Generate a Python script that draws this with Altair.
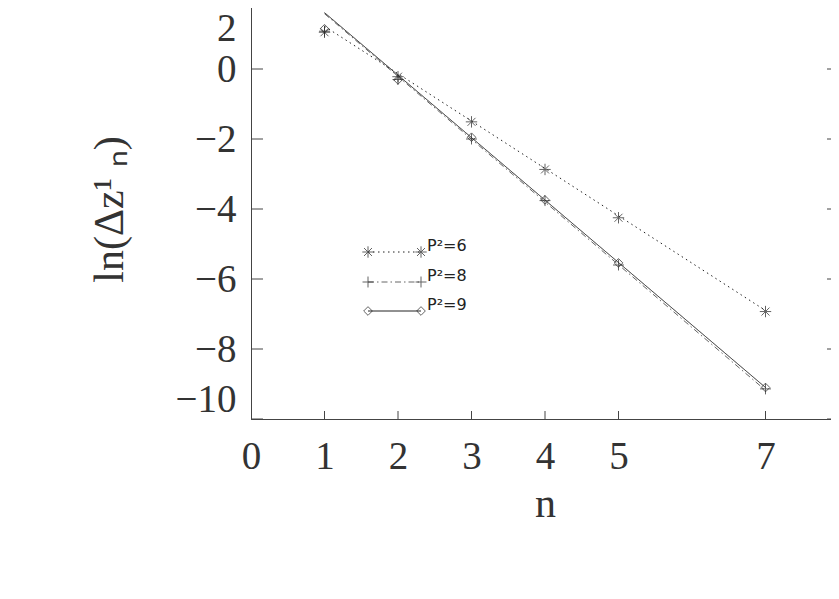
import altair as alt
import pandas as pd

# ---- data ----
n_vals = [1, 2, 3, 4, 5, 7]
p6 = [1.05, -0.22, -1.51, -2.87, -4.25, -6.93]
p8 = [1.08, -0.30, -2.00, -3.76, -5.60, -9.14]
p9 = [1.15, -0.31, -1.95, -3.74, -5.54, -9.10]
fit_n = [1, 7]
fit6 = [1.22, -6.90]
fit8 = [1.58, -9.18]
fit9 = [1.61, -9.10]
labels = ["P²=6", "P²=8", "P²=9"]
x_label_values = [0, 1, 2, 3, 4, 5, 7]
x_tick_values = [1, 2, 3, 4, 5, 7]
y_tick_values = [2, 0, -2, -4, -6, -8, -10]

W, H = 588, 420
INK = "#222222"
FRAME = "#444444"

ASTER = "M-1,0H1M0,-1V1M-0.7,-0.7L0.7,0.7M-0.7,0.7L0.7,-0.7"
PLUS = "M-1,0H1M0,-1V1"
DIAM = "M-1,0L0,-1L1,0L0,1Z"

styles = [
    dict(shape=ASTER, size=130, dash=[1.5, 3.5], color=INK),
    dict(shape=PLUS, size=120, dash=[6, 3, 1.5, 3], color="#666666"),
    dict(shape=DIAM, size=75, dash=[1, 0], color=INK),
]
points = [p6, p8, p9]
fits = [fit6, fit8, fit9]

xs = alt.Scale(domain=[0, 8], nice=False, zero=False)
ys = alt.Scale(domain=[-10, 2], nice=False, zero=False)

layers = []

base_df = pd.DataFrame({"n": n_vals, "v": p9})
axes = alt.Chart(base_df).mark_point(opacity=0).encode(
    x=alt.X("n:Q", scale=xs, axis=alt.Axis(
        values=x_label_values, format="d", title="n", grid=False, ticks=False, tickSize=0,
        labelFlush=False, labelPadding=18, labelFontSize=39, labelFont="Liberation Serif",
        labelColor="#333333", domainColor=FRAME, titleFont="Liberation Serif", titleFontSize=42,
        titleFontWeight="normal", titleColor="#333333", titleBaseline="alphabetic", titleY=97,
        labelOverlap=False)),
    y=alt.Y("v:Q", scale=ys, axis=alt.Axis(
        values=y_tick_values, format="d", title="ln(Δz¹ ₙ)", grid=False, ticks=False, tickSize=0,
        labelFlush=True, labelPadding=15, labelFontSize=39, labelFont="Liberation Serif",
        labelOffset={"condition": {"test": "datum.value === 2", "value": 10}, "value": 0},
        labelColor="#333333", domainColor=FRAME, titleFont="Liberation Serif", titleFontSize=42,
        titleFontWeight="normal", titleColor="#333333", titleBaseline="alphabetic", titleX=-129,
        titleAngle=270, labelOverlap=False)),
)
layers.append(axes)

# inward tick marks
xt = pd.DataFrame({"t": x_tick_values})
yt = pd.DataFrame({"t": y_tick_values})
layers.append(alt.Chart(xt).mark_rule(color=FRAME, strokeWidth=1).encode(
    x=alt.X("t:Q", scale=xs), y=alt.value(H), y2=alt.value(H - 8)))
layers.append(alt.Chart(xt).mark_rule(color=FRAME, strokeWidth=1).encode(
    x=alt.X("t:Q", scale=xs), y=alt.value(0), y2=alt.value(8)))
layers.append(alt.Chart(yt).mark_rule(color=FRAME, strokeWidth=1).encode(
    y=alt.Y("t:Q", scale=ys), x=alt.value(0), x2=alt.value(12)))
layers.append(alt.Chart(yt).mark_rule(color=FRAME, strokeWidth=1).encode(
    y=alt.Y("t:Q", scale=ys), x=alt.value(W), x2=alt.value(W - 12)))

# series: fitted lines + markers
for lab, pts, fit, st in zip(labels, points, fits, styles):
    fdf = pd.DataFrame({"n": fit_n, "v": fit})
    layers.append(alt.Chart(fdf).mark_line(
        color=st["color"], strokeWidth=1, strokeDash=st["dash"]).encode(
        x=alt.X("n:Q", scale=xs), y=alt.Y("v:Q", scale=ys)))
    pdf = pd.DataFrame({"n": n_vals, "v": pts})
    layers.append(alt.Chart(pdf).mark_point(
        shape=st["shape"], size=st["size"], filled=False, color=INK, strokeWidth=1).encode(
        x=alt.X("n:Q", scale=xs), y=alt.Y("v:Q", scale=ys)))

# manual legend
leg_y = [253, 283, 312]
for i, (lab, st) in enumerate(zip(labels, styles)):
    ldf = pd.DataFrame({"label": [lab]})
    yy = leg_y[i]
    layers.append(alt.Chart(ldf).mark_rule(
        color=st["color"], strokeWidth=1, strokeDash=st["dash"]).encode(
        x=alt.value(117), x2=alt.value(170), y=alt.value(yy)))
    for xx in (117, 170):
        layers.append(alt.Chart(ldf).mark_point(
            shape=st["shape"], size=st["size"], filled=False, color=INK, strokeWidth=1).encode(
            x=alt.value(xx), y=alt.value(yy)))
    layers.append(alt.Chart(ldf).mark_text(
        align="left", baseline="alphabetic", font="DejaVu Sans", fontSize=16, color=INK).encode(
        x=alt.value(176), y=alt.value(yy - 1), text="label:N"))

chart = alt.layer(*layers).properties(
    width=W, height=H,
    autosize=alt.AutoSizeParams(type="none"),
    padding={"left": 243, "top": -9, "right": -8, "bottom": 150},
).configure_view(stroke=FRAME, strokeWidth=1)

chart.save("out.html", embed_options={"renderer": "svg", "actions": False})
